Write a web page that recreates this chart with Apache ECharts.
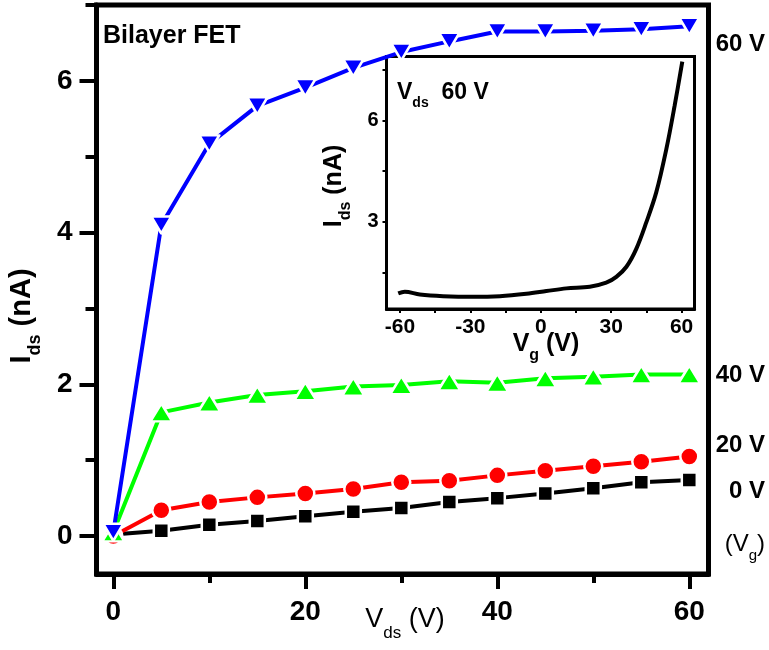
<!DOCTYPE html>
<html>
<head>
<meta charset="utf-8">
<script src="https://cdn.jsdelivr.net/npm/echarts@6/dist/echarts.min.js"></script>
<style>
  html, body { margin: 0; padding: 0; background: #fff; }
  #chart { width: 769px; height: 650px; }
</style>
</head>
<body>
<div id="chart"></div>
<script>
// Output characteristics: drain voltage steps and drain current per gate voltage
const vds = [0, 5, 10, 15, 20, 25, 30, 35, 40, 45, 50, 55, 60];
const idsVg0 = [0.02, 0.07, 0.15, 0.20, 0.26, 0.32, 0.37, 0.45, 0.50, 0.56, 0.63, 0.71, 0.74];
const idsVg20 = [0.00, 0.34, 0.45, 0.51, 0.56, 0.62, 0.71, 0.73, 0.80, 0.86, 0.92, 0.98, 1.05];
const idsVg40 = [0.05, 1.63, 1.76, 1.86, 1.91, 1.97, 1.99, 2.04, 2.02, 2.08, 2.10, 2.13, 2.13];
const idsVg60 = [0.05, 4.10, 5.17, 5.67, 5.91, 6.17, 6.38, 6.52, 6.65, 6.65, 6.66, 6.68, 6.72];

// Transfer curve at Vds = 60 V
const vgSweep = [-60.7, -57.9, -51.5, -41.6, -28.8, -17.4, -6.1, 2.4, 10.9, 20.9, 27.9, 32.2, 36.5, 40.7, 45.0, 49.2, 53.5, 57.0, 60.3];
const idsSweep = [0.88, 0.93, 0.85, 0.80, 0.78, 0.80, 0.87, 0.95, 1.03, 1.08, 1.20, 1.37, 1.67, 2.20, 2.99, 3.87, 5.15, 6.42, 7.74];

// Tick positions and labels
const vdsMajor = [0, 20, 40, 60];
const vdsMinor = [10, 30, 50];
const idsMajor = [0, 2, 4, 6];
const idsMinor = [1, 3, 5, 7];
const vgTicks = [-60, -45, -30, -15, 0, 15, 30, 45, 60];
const vgLabels = [-60, -30, 0, 30, 60];
const insetTicks = [1.5, 3, 4.5, 6, 7.5];
const insetLabels = [3, 6];

const FONT = 'Liberation Sans, Arial, sans-serif';

function pairs(xs, ys) { return xs.map((x, i) => [x, ys[i]]); }

function curve(name, ys, color, symbol, size, rotate, z) {
  return {
    name, type: 'line', xAxisIndex: 0, yAxisIndex: 0,
    data: pairs(vds, ys),
    symbol, symbolSize: size, symbolRotate: rotate || 0,
    showAllSymbol: true,
    lineStyle: { color, width: 4 },
    itemStyle: { color, borderColor: '#fff', borderWidth: 2.5, borderJoin: 'round' },
    z, animation: false
  };
}

// main text token "a" is lifted by a bottom padding so the "b" token sits as a subscript
function rich(size, weight) {
  const sub = Math.round(size * 0.62);
  return {
    a: { fontSize: size, fontWeight: weight, fontFamily: FONT, color: '#000', lineHeight: size, verticalAlign: 'bottom', padding: [0, 0, Math.round(size * 0.28), 0] },
    b: { fontSize: sub, fontWeight: weight, fontFamily: FONT, color: '#000', lineHeight: sub, verticalAlign: 'bottom' }
  };
}

const chart = echarts.init(document.getElementById('chart'), null, { renderer: 'canvas' });

chart.setOption({
  backgroundColor: '#fff',
  animation: false,
  grid: [
    { left: 96.5, top: 5, right: 60.5, bottom: 76, show: true, borderColor: '#000', borderWidth: 5, backgroundColor: 'transparent', z: 0 },
    { left: 386.5, top: 56.5, right: 74.5, bottom: 341, show: true, borderColor: '#000', borderWidth: 3, backgroundColor: '#fff', z: 1 }
  ],
  xAxis: [
    {
      gridIndex: 0, type: 'value', min: -1.75, max: 62, position: 'bottom',
      axisLine: { show: true, onZero: false, lineStyle: { color: '#000', width: 5 } },
      axisTick: { show: true, customValues: vdsMajor, length: 15, lineStyle: { color: '#000', width: 4 } },
      axisLabel: { show: true, customValues: vdsMajor, margin: 24, fontSize: 28, fontWeight: 'bold', fontFamily: FONT, color: '#000' },
      splitLine: { show: false }
    },
    {
      gridIndex: 0, type: 'value', min: -1.75, max: 62, position: 'bottom',
      axisLine: { show: false, onZero: false },
      axisTick: { show: true, customValues: vdsMinor, length: 9, lineStyle: { color: '#000', width: 4 } },
      axisLabel: { show: false },
      splitLine: { show: false }
    },
    {
      gridIndex: 1, type: 'value', min: -65.7, max: 65.5, position: 'bottom',
      axisLine: { show: true, onZero: false, lineStyle: { color: '#000', width: 3 } },
      axisTick: { show: true, customValues: vgTicks, length: 4, lineStyle: { color: '#000', width: 2 } },
      axisLabel: { show: true, customValues: vgLabels, margin: 8, fontSize: 21, fontWeight: 'bold', fontFamily: FONT, color: '#000' },
      splitLine: { show: false }
    }
  ],
  yAxis: [
    {
      gridIndex: 0, type: 'value', min: -0.5, max: 7, position: 'left',
      axisLine: { show: true, onZero: false, lineStyle: { color: '#000', width: 5 } },
      axisTick: { show: true, customValues: idsMajor, length: 17, lineStyle: { color: '#000', width: 4 } },
      axisLabel: { show: true, customValues: idsMajor, margin: 24, fontSize: 28, fontWeight: 'bold', fontFamily: FONT, color: '#000' },
      splitLine: { show: false }
    },
    {
      gridIndex: 0, type: 'value', min: -0.5, max: 7, position: 'left',
      axisLine: { show: false, onZero: false },
      axisTick: { show: true, customValues: idsMinor, length: 11, lineStyle: { color: '#000', width: 4 } },
      axisLabel: { show: false },
      splitLine: { show: false }
    },
    {
      gridIndex: 1, type: 'value', min: 0.42, max: 7.89, position: 'left',
      axisLine: { show: true, onZero: false, lineStyle: { color: '#000', width: 3 } },
      axisTick: { show: true, customValues: insetTicks, length: 4, lineStyle: { color: '#000', width: 2 } },
      axisLabel: { show: true, customValues: insetLabels, margin: 8, fontSize: 20, fontWeight: 'bold', fontFamily: FONT, color: '#000' },
      splitLine: { show: false }
    }
  ],
  series: [
    curve('0 V', idsVg0, '#000000', 'rect', 15, 0, 3),
    curve('20 V', idsVg20, '#ff0000', 'circle', 18, 0, 4),
    curve('40 V', idsVg40, '#00ff00', 'triangle', [22, 18], 0, 5),
    curve('60 V', idsVg60, '#0000ff', 'triangle', [20, 17], 180, 6),
    {
      name: 'transfer', type: 'line', xAxisIndex: 2, yAxisIndex: 2,
      data: pairs(vgSweep, idsSweep),
      smooth: 0.35, showSymbol: false, symbol: 'none',
      lineStyle: { color: '#000', width: 4 },
      z: 7, animation: false
    }
  ],
  graphic: [
    { type: 'text', left: 103, top: 24, z: 10,
      style: { text: 'Bilayer FET', font: 'bold 25px ' + FONT, fill: '#000' } },
    // curve labels on the right
    { type: 'text', x: 765, y: 44, z: 10,
      style: { text: '60 V', font: 'bold 24px ' + FONT, fill: '#000', align: 'right', verticalAlign: 'middle' } },
    { type: 'text', x: 765, y: 375, z: 10,
      style: { text: '40 V', font: 'bold 24px ' + FONT, fill: '#000', align: 'right', verticalAlign: 'middle' } },
    { type: 'text', x: 765, y: 445, z: 10,
      style: { text: '20 V', font: 'bold 24px ' + FONT, fill: '#000', align: 'right', verticalAlign: 'middle' } },
    { type: 'text', x: 765, y: 491, z: 10,
      style: { text: '0 V', font: 'bold 24px ' + FONT, fill: '#000', align: 'right', verticalAlign: 'middle' } },
    { type: 'text', x: 765, y: 551, z: 10,
      style: { text: '{a|(V}{b|g}{a|)}', rich: rich(24, 'normal'), align: 'right', verticalAlign: 'middle' } },
    // main axis titles
    { type: 'text', x: 405, y: 628, z: 10,
      style: { text: '{a|V}{b|ds}{a| (V)}', rich: rich(27, 'normal'), align: 'center', verticalAlign: 'middle' } },
    { type: 'text', x: 30, y: 316, rotation: Math.PI / 2, z: 10,
      style: { text: '{a|I}{b|ds}{a| (nA)}', rich: rich(29, 'bold'), align: 'center', verticalAlign: 'middle' } },
    // inset texts
    { type: 'text', x: 397, y: 99, z: 10,
      style: { text: '{a|V}{b|ds}{a|  60 V}', rich: rich(23, 'bold'), align: 'left', verticalAlign: 'middle' } },
    { type: 'text', x: 546, y: 351, z: 10,
      style: { text: '{a|V}{b|g}{a| (V)}', rich: rich(25, 'bold'), align: 'center', verticalAlign: 'middle' } },
    { type: 'text', x: 341, y: 186, rotation: Math.PI / 2, z: 10,
      style: { text: '{a|I}{b|ds}{a| (nA)}', rich: rich(25, 'bold'), align: 'center', verticalAlign: 'middle' } }
  ]
});
</script>
</body>
</html>
